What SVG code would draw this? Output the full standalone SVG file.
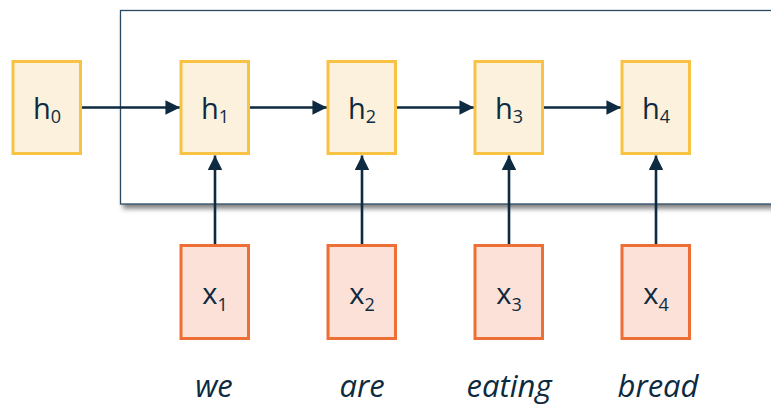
<svg xmlns="http://www.w3.org/2000/svg" width="771" height="406" viewBox="0 0 771 406">
  <defs>
    <style>
      .h rect { fill: #FCF1DC; stroke: #F8C244; stroke-width: 3; }
      .x rect { fill: #FBE1D7; stroke: #EE6F35; stroke-width: 3; }
      .lbl { font-family: "Open Sans", "Noto Sans", sans-serif; font-size: 29px; fill: #0D2A40; text-anchor: middle; }
      .sub { font-size: 18px; }
      .word { font-family: "Open Sans", "Noto Sans", sans-serif; font-size: 31px; font-style: italic; fill: #0D2A40; text-anchor: middle; }
      .edge { stroke: #0D2A40; stroke-width: 2.6; fill: none; marker-end: url(#arrow); }
    </style>
    <marker id="arrow" viewBox="0 0 10 10" refX="10" refY="5" markerWidth="5.8" markerHeight="5.6" markerUnits="strokeWidth" orient="auto">
      <path d="M0,0 L10,5 L0,10 z" fill="#0D2A40"/>
    </marker>
    <filter id="shadow" x="-5%" y="-10%" width="115%" height="130%">
      <feDropShadow dx="3" dy="4" stdDeviation="2.5" flood-color="#000" flood-opacity="0.5"/>
    </filter>
  </defs>

  <!-- recurrent block frame -->
  <rect id="frame" x="120.5" y="10.5" width="680" height="193.5" fill="#fff" stroke="#2C4A62" stroke-width="1.3" filter="url(#shadow)"/>

  <g id="connectors">
    <line class="edge" x1="81" y1="107.5" x2="180" y2="107.5"/>
    <line class="edge" x1="250" y1="107.5" x2="327" y2="107.5"/>
    <line class="edge" x1="397" y1="107.5" x2="474" y2="107.5"/>
    <line class="edge" x1="544" y1="107.5" x2="621" y2="107.5"/>
    <line class="edge" x1="215" y1="244" x2="215" y2="155.5"/>
    <line class="edge" x1="362" y1="244" x2="362" y2="155.5"/>
    <line class="edge" x1="509" y1="244" x2="509" y2="155.5"/>
    <line class="edge" x1="656" y1="244" x2="656" y2="155.5"/>
  </g>

  <g id="h0" class="h">
    <rect x="13" y="61.5" width="67.5" height="92"/>
    <text class="lbl" x="47" y="118.5">h<tspan class="sub" dy="4">0</tspan></text>
  </g>
  <g id="h1" class="h">
    <rect x="181" y="61.5" width="67.5" height="92"/>
    <text class="lbl" x="215" y="118.5">h<tspan class="sub" dy="4">1</tspan></text>
  </g>
  <g id="h2" class="h">
    <rect x="328" y="61.5" width="67.5" height="92"/>
    <text class="lbl" x="362" y="118.5">h<tspan class="sub" dy="4">2</tspan></text>
  </g>
  <g id="h3" class="h">
    <rect x="475" y="61.5" width="67.5" height="92"/>
    <text class="lbl" x="509" y="118.5">h<tspan class="sub" dy="4">3</tspan></text>
  </g>
  <g id="h4" class="h">
    <rect x="622" y="61.5" width="67.5" height="92"/>
    <text class="lbl" x="656" y="118.5">h<tspan class="sub" dy="4">4</tspan></text>
  </g>

  <g id="x1" class="x">
    <rect x="181" y="245.5" width="67.5" height="93"/>
    <text class="lbl" x="215" y="303.5">x<tspan class="sub" dy="7">1</tspan></text>
  </g>
  <g id="x2" class="x">
    <rect x="328" y="245.5" width="67.5" height="93"/>
    <text class="lbl" x="362" y="303.5">x<tspan class="sub" dy="7">2</tspan></text>
  </g>
  <g id="x3" class="x">
    <rect x="475" y="245.5" width="67.5" height="93"/>
    <text class="lbl" x="509" y="303.5">x<tspan class="sub" dy="7">3</tspan></text>
  </g>
  <g id="x4" class="x">
    <rect x="622" y="245.5" width="67.5" height="93"/>
    <text class="lbl" x="656" y="303.5">x<tspan class="sub" dy="7">4</tspan></text>
  </g>

  <g id="words">
    <text class="word" x="214" y="397">we</text>
    <text class="word" x="362" y="397">are</text>
    <text class="word" x="509" y="397">eating</text>
    <text class="word" x="658" y="397">bread</text>
  </g>
</svg>
